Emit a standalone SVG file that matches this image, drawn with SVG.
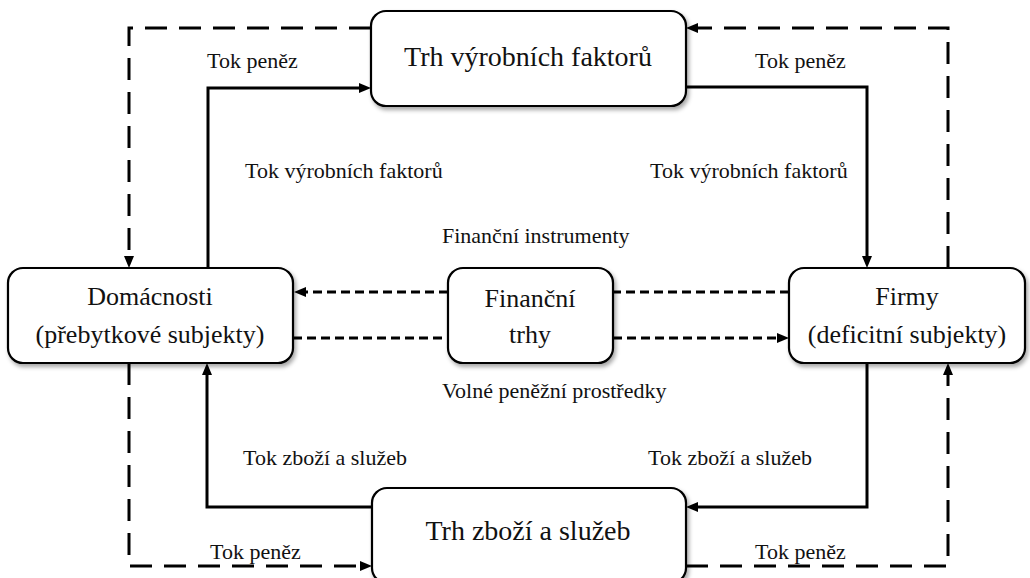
<svg xmlns="http://www.w3.org/2000/svg" width="1030" height="578" viewBox="0 0 1030 578">
<style>
.box{fill:#fff;stroke:#000;stroke-width:2.2;filter:url(#sh)}
.t{font-family:"Liberation Serif","Times New Roman",serif;fill:#111}
.bt{font-size:26px;text-anchor:middle}
.tt{font-size:28px;text-anchor:middle}
.lb{font-size:22px}
.c{fill:none;stroke:#000;stroke-width:3}
.ld{stroke-dasharray:22 12}
.sd{stroke-dasharray:9 5}
</style>
<defs>
<filter id="sh" x="-10%" y="-10%" width="125%" height="130%">
<feDropShadow dx="2" dy="3" stdDeviation="2" flood-color="#000" flood-opacity="0.35"/>
</filter>
<marker id="ah" viewBox="0 0 12 10" refX="0" refY="5" markerWidth="12" markerHeight="10" markerUnits="userSpaceOnUse" orient="auto">
<path d="M0,0 L12,5 L0,10 z" fill="#000"/>
</marker>
</defs>
<rect width="1030" height="578" fill="#fff"/>
<g id="connectors">
<path class="c ld" d="M371,28 H129 V256" marker-end="url(#ah)"/>
<path class="c ld" d="M948,268 V28 H698" marker-end="url(#ah)"/>
<path class="c" d="M208,268 V88 H359" marker-end="url(#ah)"/>
<path class="c" d="M686,87 H867 V256" marker-end="url(#ah)"/>
<path class="c" d="M867,363 V507 H698" marker-end="url(#ah)"/>
<path class="c" d="M372,507 H207 V375" marker-end="url(#ah)"/>
<path class="c ld" d="M129,363 V566 H360" marker-end="url(#ah)"/>
<path class="c ld" d="M686,566 H948 V375" marker-end="url(#ah)"/>
<path class="c sd" d="M789,292 H613"/>
<path class="c sd" d="M448,292 H306" marker-end="url(#ah)"/>
<path class="c sd" d="M293,338 H448"/>
<path class="c sd" d="M613,338 H777" marker-end="url(#ah)"/>
</g>
<g id="trh-vyrobnich-faktoru">
<rect class="box" x="371" y="11" width="315" height="95" rx="15"/>
<text class="t tt" x="528" y="66">Trh výrobních faktorů</text>
</g>
<g id="domacnosti">
<rect class="box" x="8" y="268" width="285" height="95" rx="15"/>
<text class="t bt" x="150" y="305">Domácnosti</text>
<text class="t bt" x="150" y="343">(přebytkové subjekty)</text>
</g>
<g id="financni-trhy">
<rect class="box" x="448" y="268" width="165" height="95" rx="15"/>
<text class="t bt" x="530" y="307">Finanční</text>
<text class="t bt" x="530" y="343">trhy</text>
</g>
<g id="firmy">
<rect class="box" x="789" y="268" width="236" height="95" rx="15"/>
<text class="t bt" x="907" y="305">Firmy</text>
<text class="t bt" x="907" y="343">(deficitní subjekty)</text>
</g>
<g id="trh-zbozi-a-sluzeb">
<rect class="box" x="372" y="488" width="314" height="95" rx="15"/>
<text class="t tt" x="528" y="540">Trh zboží a služeb</text>
</g>
<g id="labels">
<text class="t lb" x="207" y="68">Tok peněz</text>
<text class="t lb" x="755" y="68">Tok peněz</text>
<text class="t lb" x="245" y="178">Tok výrobních faktorů</text>
<text class="t lb" x="650" y="178">Tok výrobních faktorů</text>
<text class="t lb" x="442" y="243">Finanční instrumenty</text>
<text class="t lb" x="442" y="398">Volné peněžní prostředky</text>
<text class="t lb" x="243" y="465">Tok zboží a služeb</text>
<text class="t lb" x="648" y="465">Tok zboží a služeb</text>
<text class="t lb" x="210" y="559">Tok peněz</text>
<text class="t lb" x="755" y="559">Tok peněz</text>
</g>
</svg>
